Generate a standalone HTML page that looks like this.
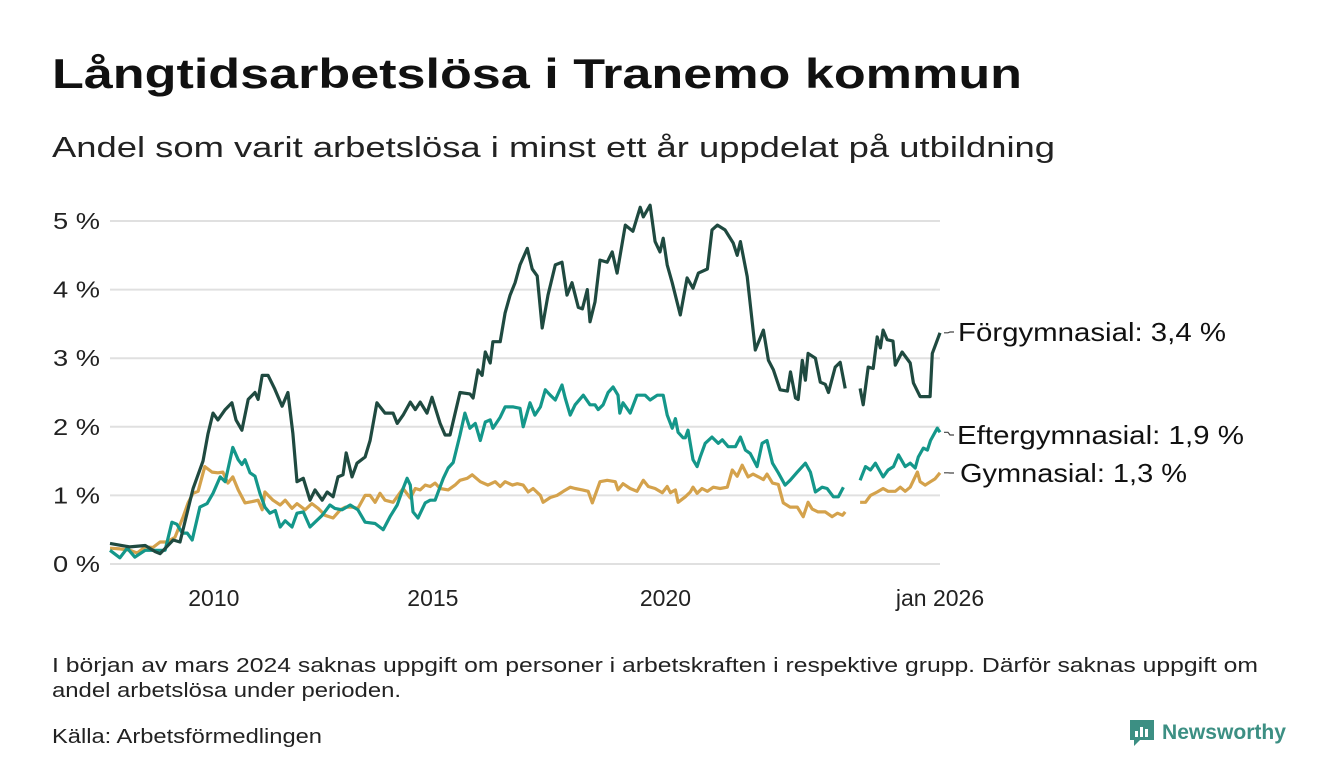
<!DOCTYPE html>
<html><head><meta charset="utf-8"><style>
html,body{margin:0;padding:0;background:#fff}
svg{display:block;font-family:"Liberation Sans",sans-serif}
</style></head><body>
<svg id="chart" width="1340" height="780" viewBox="0 0 1340 780" xmlns="http://www.w3.org/2000/svg">
<text x="52" y="88" font-size="42" font-weight="bold" fill="#111" textLength="970" lengthAdjust="spacingAndGlyphs">Långtidsarbetslösa i Tranemo kommun</text>
<text x="52" y="157" font-size="29" fill="#222" textLength="1003" lengthAdjust="spacingAndGlyphs">Andel som varit arbetslösa i minst ett år uppdelat på utbildning</text>
<g id="grid"></g>
<g id="series"></g>
<g id="labels"></g>
<text x="52" y="672" font-size="20" fill="#222" textLength="1206" lengthAdjust="spacingAndGlyphs">I början av mars 2024 saknas uppgift om personer i arbetskraften i respektive grupp. Därför saknas uppgift om</text>
<text x="52" y="697" font-size="20" fill="#222" textLength="349" lengthAdjust="spacingAndGlyphs">andel arbetslösa under perioden.</text>
<text x="52" y="743" font-size="20" fill="#222" textLength="270" lengthAdjust="spacingAndGlyphs">Källa: Arbetsförmedlingen</text>
<g>
<path d="M1130 720 h24 v20 h-14 l-6 6 v-6 h-4 z" fill="#3c8f83"/>
<rect x="1135" y="731" width="3" height="6" fill="#fff"/><rect x="1140" y="727" width="3" height="10" fill="#fff"/><rect x="1145" y="729" width="3" height="8" fill="#fff"/>
<text x="1162" y="739" font-size="21" font-weight="bold" fill="#3c8f83" textLength="124" lengthAdjust="spacingAndGlyphs">Newsworthy</text>
</g>
</svg>
<script>
const yTicks = [0,1,2,3,4,5];
const yTickLabels = ["0 %","1 %","2 %","3 %","4 %","5 %"];
const xTicks = [2010.0,2014.85,2020.0,2026.08];
const xTickLabels = ["2010","2015","2020","jan 2026"];
const seriesNames = ["Förgymnasial","Eftergymnasial","Gymnasial"];
const endLabels = ["Förgymnasial: 3,4 %","Eftergymnasial: 1,9 %","Gymnasial: 1,3 %"];

const forgDates = [2007.70,2008.14,2008.48,2008.70,2008.81,2009.10,2009.25,2009.54,2009.76,2009.87,2009.98,2010.09,2010.25,2010.40,2010.49,2010.62,2010.76,2010.91,2010.98,2011.07,2011.20,2011.35,2011.51,2011.64,2011.75,2011.84,2011.98,2012.13,2012.24,2012.40,2012.51,2012.64,2012.75,2012.86,2012.93,2013.06,2013.17,2013.35,2013.46,2013.61,2013.79,2013.97,2014.06,2014.19,2014.35,2014.46,2014.57,2014.72,2014.83,2015.01,2015.12,2015.23,2015.45,2015.67,2015.74,2015.85,2015.94,2016.01,2016.12,2016.18,2016.34,2016.45,2016.56,2016.67,2016.78,2016.94,2017.05,2017.16,2017.27,2017.40,2017.56,2017.71,2017.82,2017.93,2018.07,2018.16,2018.27,2018.33,2018.44,2018.55,2018.71,2018.82,2018.93,2019.11,2019.28,2019.44,2019.51,2019.66,2019.77,2019.88,2019.95,2020.04,2020.15,2020.33,2020.48,2020.61,2020.73,2020.93,2021.03,2021.15,2021.32,2021.50,2021.59,2021.66,2021.81,2021.99,2022.17,2022.28,2022.39,2022.54,2022.70,2022.77,2022.88,2022.94,2023.03,2023.10,2023.16,2023.32,2023.43,2023.54,2023.61,2023.76,2023.87,2023.98,2024.10,2024.31,2024.38,2024.49,2024.60,2024.69,2024.76,2024.82,2024.91,2025.04,2025.09,2025.24,2025.42,2025.49,2025.64,2025.86,2025.91,2026.08];
const forgValues = [0.30,0.25,0.27,0.18,0.15,0.35,0.32,1.10,1.50,1.90,2.20,2.10,2.25,2.35,2.10,1.95,2.40,2.50,2.40,2.75,2.75,2.55,2.30,2.50,1.90,1.20,1.25,0.93,1.08,0.93,1.05,0.98,1.27,1.30,1.62,1.27,1.47,1.56,1.80,2.35,2.20,2.20,2.05,2.17,2.36,2.25,2.36,2.20,2.43,2.05,1.88,1.88,2.50,2.48,2.42,2.83,2.75,3.09,2.93,3.24,3.24,3.66,3.92,4.10,4.36,4.60,4.30,4.20,3.44,3.92,4.36,4.40,3.92,4.10,3.74,3.72,4.00,3.53,3.82,4.43,4.40,4.55,4.24,4.94,4.85,5.20,5.06,5.23,4.70,4.55,4.75,4.36,4.10,3.63,4.17,4.02,4.24,4.30,4.87,4.94,4.87,4.68,4.50,4.70,4.19,3.12,3.41,2.97,2.83,2.54,2.52,2.80,2.42,2.40,2.97,2.68,3.07,3.00,2.65,2.62,2.50,2.87,2.94,2.56,null,2.56,2.32,2.87,2.85,3.31,3.15,3.41,3.27,3.25,2.90,3.09,2.93,2.64,2.44,2.44,3.07,3.37];

const efterDates = [2007.70,2007.92,2008.08,2008.25,2008.48,2008.92,2009.07,2009.18,2009.30,2009.41,2009.52,2009.69,2009.85,2009.98,2010.14,2010.25,2010.42,2010.54,2010.62,2010.69,2010.80,2010.91,2011.02,2011.13,2011.24,2011.36,2011.47,2011.58,2011.73,2011.84,2011.98,2012.13,2012.24,2012.40,2012.57,2012.68,2012.84,2013.02,2013.19,2013.35,2013.57,2013.75,2013.90,2014.06,2014.19,2014.28,2014.35,2014.41,2014.52,2014.68,2014.79,2014.90,2015.08,2015.19,2015.30,2015.45,2015.56,2015.67,2015.79,2015.90,2016.01,2016.12,2016.18,2016.34,2016.45,2016.63,2016.78,2016.85,2017.00,2017.11,2017.23,2017.34,2017.45,2017.56,2017.71,2017.78,2017.89,2018.00,2018.18,2018.33,2018.44,2018.51,2018.62,2018.73,2018.84,2018.95,2018.99,2019.06,2019.22,2019.37,2019.55,2019.66,2019.82,2019.95,2020.04,2020.15,2020.22,2020.28,2020.39,2020.44,2020.50,2020.61,2020.70,2020.77,2020.88,2021.03,2021.17,2021.26,2021.39,2021.55,2021.66,2021.77,2021.88,2022.03,2022.14,2022.25,2022.37,2022.50,2022.65,2022.76,2022.92,2023.10,2023.21,2023.32,2023.47,2023.58,2023.72,2023.83,2023.94,2024.10,2024.31,2024.43,2024.54,2024.65,2024.82,2024.93,2025.05,2025.16,2025.31,2025.42,2025.53,2025.60,2025.71,2025.80,2025.87,2026.02,2026.08];
const efterValues = [0.20,0.09,0.23,0.10,0.20,0.20,0.61,0.58,0.45,0.45,0.35,0.83,0.88,1.03,1.27,1.20,1.70,1.52,1.45,1.52,1.33,1.28,1.03,0.83,0.74,0.78,0.54,0.63,0.54,0.74,0.76,0.54,0.61,0.71,0.86,0.81,0.79,0.86,0.79,0.61,0.59,0.50,0.69,0.86,1.10,1.25,1.15,0.76,0.67,0.89,0.93,0.93,1.25,1.40,1.48,1.88,2.20,1.98,2.05,1.80,2.07,2.10,1.98,2.14,2.29,2.29,2.27,2.00,2.35,2.17,2.29,2.54,2.46,2.39,2.61,2.42,2.17,2.32,2.46,2.32,2.32,2.25,2.32,2.50,2.58,2.46,2.20,2.35,2.20,2.46,2.46,2.39,2.46,2.46,2.17,1.98,2.12,1.92,1.84,1.84,1.95,1.52,1.42,1.56,1.76,1.85,1.76,1.81,1.71,1.71,1.85,1.66,1.61,1.42,1.76,1.80,1.47,1.33,1.15,1.22,1.34,1.47,1.34,1.05,1.12,1.10,0.98,0.98,1.12,null,1.22,1.42,1.37,1.47,1.27,1.37,1.42,1.59,1.42,1.47,1.40,1.56,1.69,1.66,1.80,1.98,1.92];

const gymDates = [2007.70,2007.92,2008.14,2008.30,2008.48,2008.65,2008.81,2008.96,2009.14,2009.32,2009.43,2009.54,2009.65,2009.80,2009.96,2010.09,2010.20,2010.31,2010.42,2010.54,2010.69,2010.85,2010.98,2011.07,2011.13,2011.31,2011.47,2011.58,2011.73,2011.84,2012.02,2012.17,2012.31,2012.46,2012.64,2012.80,2012.91,2013.06,2013.19,2013.35,2013.46,2013.57,2013.68,2013.79,2013.97,2014.08,2014.19,2014.35,2014.46,2014.57,2014.68,2014.79,2014.90,2015.01,2015.19,2015.34,2015.45,2015.61,2015.72,2015.90,2016.07,2016.23,2016.34,2016.45,2016.61,2016.72,2016.85,2016.96,2017.07,2017.23,2017.29,2017.45,2017.60,2017.74,2017.89,2018.00,2018.16,2018.29,2018.38,2018.55,2018.71,2018.89,2018.95,2019.06,2019.22,2019.37,2019.51,2019.62,2019.77,2019.93,2020.04,2020.11,2020.22,2020.28,2020.44,2020.55,2020.61,2020.70,2020.81,2020.93,2021.06,2021.21,2021.37,2021.48,2021.59,2021.70,2021.83,2021.94,2022.06,2022.17,2022.25,2022.37,2022.50,2022.61,2022.76,2022.92,2023.05,2023.16,2023.25,2023.38,2023.54,2023.69,2023.81,2023.92,2023.98,2024.10,2024.31,2024.43,2024.54,2024.69,2024.82,2024.93,2025.09,2025.20,2025.31,2025.42,2025.58,2025.64,2025.75,2025.87,2025.97,2026.08];
const gymValues = [0.23,0.22,0.20,0.16,0.25,0.24,0.32,0.32,0.39,0.69,0.89,1.03,1.06,1.42,1.34,1.33,1.34,1.18,1.27,1.08,0.89,0.91,0.93,0.79,1.05,0.93,0.86,0.93,0.81,0.88,0.79,0.88,0.81,0.71,0.67,0.79,0.83,0.83,0.81,1.00,1.00,0.90,1.03,0.93,0.90,1.00,1.10,0.96,1.10,1.08,1.15,1.13,1.18,1.10,1.08,1.15,1.22,1.25,1.30,1.20,1.15,1.20,1.13,1.20,1.15,1.17,1.15,1.05,1.10,1.00,0.90,0.97,1.00,1.06,1.12,1.10,1.08,1.06,0.89,1.20,1.22,1.20,1.08,1.17,1.10,1.06,1.22,1.13,1.10,1.04,1.13,1.04,1.08,0.90,0.98,1.05,1.12,1.03,1.10,1.06,1.12,1.10,1.12,1.37,1.28,1.44,1.27,1.31,1.27,1.23,1.31,1.18,1.16,0.89,0.83,0.83,0.69,0.90,0.80,0.76,0.76,0.69,0.74,0.71,0.76,null,0.90,0.90,1.00,1.05,1.10,1.06,1.06,1.12,1.06,1.12,1.34,1.20,1.15,1.20,1.24,1.33];

const NS = "http://www.w3.org/2000/svg";
const X0 = 110, X1 = 940, D0 = 2007.70, D1 = 2026.08;
const Y0 = 564, PER = 68.6;
function xs(d){ return X0 + (d - D0) / (D1 - D0) * (X1 - X0); }
function ys(v){ return Y0 - v * PER; }
function mk(tag, attrs, parent){ const e = document.createElementNS(NS, tag); for (const k in attrs) e.setAttribute(k, attrs[k]); parent.appendChild(e); return e; }

const grid = document.getElementById('grid');
yTicks.forEach((t, i) => {
  const l = mk('line', {x1: 110, x2: 940, y1: ys(t), y2: ys(t), stroke: '#e0e0e0', 'stroke-width': 2}, grid);
  
  
  const tx = mk('text', {x: 100, y: ys(t) + 8, 'font-size': 23, fill: '#222', 'text-anchor': 'end', textLength: 47, lengthAdjust: 'spacingAndGlyphs'}, grid);
  tx.textContent = yTickLabels[i];
  
  
});
xTicks.forEach((t, i) => {
  const tx = mk('text', {x: xs(t), y: 606, 'font-size': 23, fill: '#222', 'text-anchor': 'middle'}, grid);
  tx.textContent = xTickLabels[i];
  
  
});

const colors = ['#1f4a40', '#14978a', '#d4a24c'];
const all = [[forgDates, forgValues], [efterDates, efterValues], [gymDates, gymValues]];
const sg = document.getElementById('series');
[2, 1, 0].forEach(si => {
  const [ds, vs] = all[si];
  let d = '', pen = false;
  ds.forEach((dt, i) => {
    const v = vs[i];
    if (v === null) { pen = false; return; }
    d += (pen ? 'L' : 'M') + xs(dt).toFixed(1) + ' ' + ys(v).toFixed(1) + ' ';
    pen = true;
  });
  const p = mk('path', {d: d, fill: 'none', stroke: colors[si], 'stroke-width': 3.2, 'stroke-linejoin': 'round'}, sg);
  
  
});

const lg = document.getElementById('labels');
const labelY = [332, 435, 473];
const labelW = [268, 287, 227];
const labelX = [958, 957, 960];
all.forEach(([ds, vs], si) => {
  const lastY = ys(vs[vs.length - 1]);
  const ly = labelY[si];
  const ln = mk('path', {d: 'M944 ' + lastY.toFixed(1) + ' L948 ' + lastY.toFixed(1) + ' L950 ' + ly + ' L954 ' + ly, fill: 'none', stroke: '#444', 'stroke-width': 1.2}, lg);
  
  
  const t = mk('text', {x: labelX[si], y: ly + 9, 'font-size': 26, fill: '#111', textLength: labelW[si], lengthAdjust: 'spacingAndGlyphs'}, lg);
  t.textContent = endLabels[si];
  
  
});
</script>
</body></html>
